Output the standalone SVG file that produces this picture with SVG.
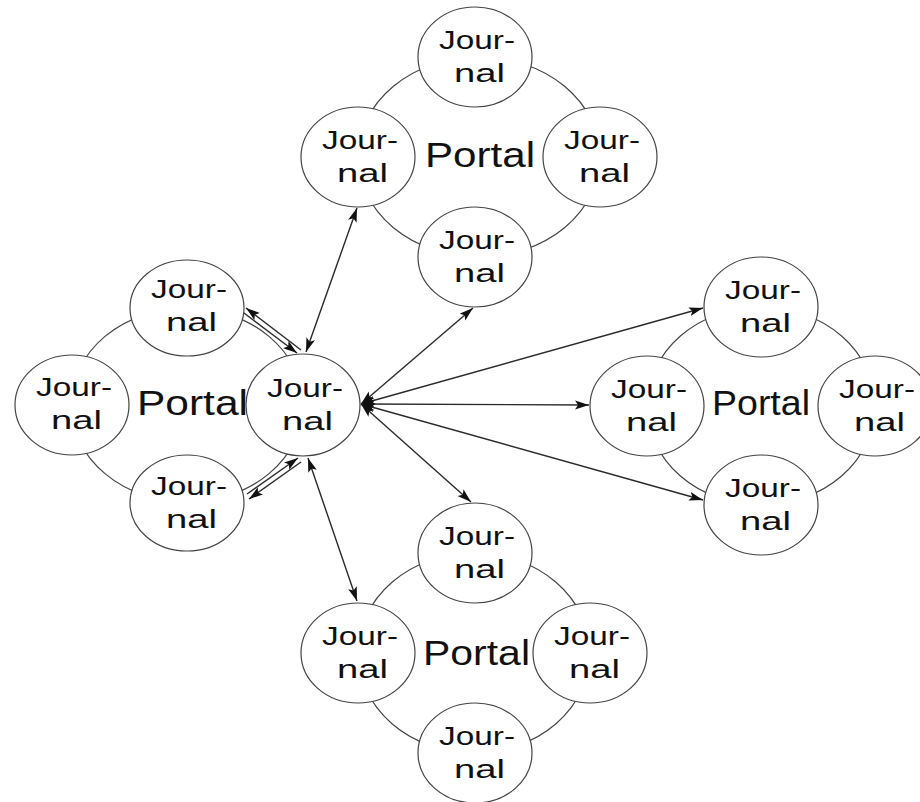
<svg xmlns="http://www.w3.org/2000/svg" width="920" height="802" viewBox="0 0 920 802">
<style>
.ring{fill:none;stroke:#444;stroke-width:1.2}
.j{fill:#fff;stroke:#444;stroke-width:1.2}
.t{font-family:"Liberation Sans",Arial,sans-serif;font-size:26px;fill:#111}
.p{font-family:"Liberation Sans",Arial,sans-serif;font-size:35px;fill:#111}
.c{fill:none;stroke:#2a2a2a;stroke-width:1.4}
</style>
<defs>
<marker id="ah" markerUnits="userSpaceOnUse" markerWidth="15" markerHeight="10" refX="14" refY="4.5" orient="auto-start-reverse">
<path d="M0,0 L14,4.5 L0,9 L3,4.5 z" fill="#111"/>
</marker>
</defs>
<rect width="920" height="802" fill="#fff"/>
<g id="rings">
<ellipse class="ring" cx="187" cy="405" rx="116" ry="97"/>
<ellipse class="ring" cx="479" cy="157" rx="121" ry="100"/>
<ellipse class="ring" cx="761" cy="406" rx="114" ry="99"/>
<ellipse class="ring" cx="474" cy="653" rx="116" ry="100"/>
</g>
<g id="portal-left"><text class="p" x="137" y="415" textLength="111" lengthAdjust="spacingAndGlyphs">Portal</text></g>
<g id="portal-top"><text class="p" x="425" y="167" textLength="110" lengthAdjust="spacingAndGlyphs">Portal</text></g>
<g id="portal-right"><text class="p" x="712" y="415" textLength="98" lengthAdjust="spacingAndGlyphs">Portal</text></g>
<g id="portal-bottom"><text class="p" x="423" y="665" textLength="107" lengthAdjust="spacingAndGlyphs">Portal</text></g>

<g id="j-left-l"><ellipse class="j" cx="72" cy="405" rx="57" ry="50"/><text class="t" x="36" y="396" textLength="76" lengthAdjust="spacingAndGlyphs">Jour-</text><text class="t" x="51" y="429" textLength="51" lengthAdjust="spacingAndGlyphs">nal</text></g>
<g id="j-left-t"><ellipse class="j" cx="187" cy="308" rx="57" ry="48"/><text class="t" x="151" y="298" textLength="76" lengthAdjust="spacingAndGlyphs">Jour-</text><text class="t" x="166" y="331" textLength="51" lengthAdjust="spacingAndGlyphs">nal</text></g>
<g id="j-left-r"><ellipse class="j" cx="303" cy="405" rx="57" ry="51"/><text class="t" x="267" y="397" textLength="76" lengthAdjust="spacingAndGlyphs">Jour-</text><text class="t" x="282" y="430" textLength="51" lengthAdjust="spacingAndGlyphs">nal</text></g>
<g id="j-left-b"><ellipse class="j" cx="187" cy="503" rx="57" ry="48"/><text class="t" x="151" y="495" textLength="76" lengthAdjust="spacingAndGlyphs">Jour-</text><text class="t" x="166" y="528" textLength="51" lengthAdjust="spacingAndGlyphs">nal</text></g>

<g id="j-top-t"><ellipse class="j" cx="475" cy="57" rx="57" ry="50"/><text class="t" x="439" y="49" textLength="76" lengthAdjust="spacingAndGlyphs">Jour-</text><text class="t" x="454" y="82" textLength="51" lengthAdjust="spacingAndGlyphs">nal</text></g>
<g id="j-top-l"><ellipse class="j" cx="358" cy="157" rx="57" ry="50"/><text class="t" x="322" y="149" textLength="76" lengthAdjust="spacingAndGlyphs">Jour-</text><text class="t" x="337" y="182" textLength="51" lengthAdjust="spacingAndGlyphs">nal</text></g>
<g id="j-top-r"><ellipse class="j" cx="600" cy="157" rx="57" ry="50"/><text class="t" x="564" y="149" textLength="76" lengthAdjust="spacingAndGlyphs">Jour-</text><text class="t" x="579" y="182" textLength="51" lengthAdjust="spacingAndGlyphs">nal</text></g>
<g id="j-top-b"><ellipse class="j" cx="475" cy="257" rx="57" ry="50"/><text class="t" x="439" y="249" textLength="76" lengthAdjust="spacingAndGlyphs">Jour-</text><text class="t" x="454" y="282" textLength="51" lengthAdjust="spacingAndGlyphs">nal</text></g>

<g id="j-right-t"><ellipse class="j" cx="761" cy="307" rx="57" ry="50"/><text class="t" x="725" y="299" textLength="76" lengthAdjust="spacingAndGlyphs">Jour-</text><text class="t" x="740" y="332" textLength="51" lengthAdjust="spacingAndGlyphs">nal</text></g>
<g id="j-right-l"><ellipse class="j" cx="647" cy="406" rx="57" ry="50"/><text class="t" x="611" y="398" textLength="76" lengthAdjust="spacingAndGlyphs">Jour-</text><text class="t" x="626" y="431" textLength="51" lengthAdjust="spacingAndGlyphs">nal</text></g>
<g id="j-right-r"><ellipse class="j" cx="875" cy="406" rx="57" ry="50"/><text class="t" x="839" y="398" textLength="76" lengthAdjust="spacingAndGlyphs">Jour-</text><text class="t" x="854" y="431" textLength="51" lengthAdjust="spacingAndGlyphs">nal</text></g>
<g id="j-right-b"><ellipse class="j" cx="761" cy="505" rx="57" ry="50"/><text class="t" x="725" y="497" textLength="76" lengthAdjust="spacingAndGlyphs">Jour-</text><text class="t" x="740" y="530" textLength="51" lengthAdjust="spacingAndGlyphs">nal</text></g>

<g id="j-bottom-t"><ellipse class="j" cx="475" cy="553" rx="57" ry="50"/><text class="t" x="439" y="545" textLength="76" lengthAdjust="spacingAndGlyphs">Jour-</text><text class="t" x="454" y="578" textLength="51" lengthAdjust="spacingAndGlyphs">nal</text></g>
<g id="j-bottom-l"><ellipse class="j" cx="358" cy="653" rx="57" ry="50"/><text class="t" x="322" y="645" textLength="76" lengthAdjust="spacingAndGlyphs">Jour-</text><text class="t" x="337" y="678" textLength="51" lengthAdjust="spacingAndGlyphs">nal</text></g>
<g id="j-bottom-r"><ellipse class="j" cx="590" cy="653" rx="57" ry="50"/><text class="t" x="554" y="645" textLength="76" lengthAdjust="spacingAndGlyphs">Jour-</text><text class="t" x="569" y="678" textLength="51" lengthAdjust="spacingAndGlyphs">nal</text></g>
<g id="j-bottom-b"><ellipse class="j" cx="475" cy="753" rx="57" ry="50"/><text class="t" x="439" y="745" textLength="76" lengthAdjust="spacingAndGlyphs">Jour-</text><text class="t" x="454" y="778" textLength="51" lengthAdjust="spacingAndGlyphs">nal</text></g>

<g id="connectors">
<line class="c" x1="361" y1="404" x2="473" y2="308" marker-start="url(#ah)" marker-end="url(#ah)"/>
<line class="c" x1="361" y1="404" x2="703" y2="308" marker-start="url(#ah)" marker-end="url(#ah)"/>
<line class="c" x1="361" y1="404" x2="589" y2="405" marker-start="url(#ah)" marker-end="url(#ah)"/>
<line class="c" x1="361" y1="404" x2="703" y2="500" marker-start="url(#ah)" marker-end="url(#ah)"/>
<line class="c" x1="361" y1="404" x2="471" y2="502" marker-start="url(#ah)" marker-end="url(#ah)"/>
<line class="c" x1="306" y1="352" x2="357" y2="208" marker-start="url(#ah)" marker-end="url(#ah)"/>
<line class="c" x1="308" y1="458" x2="357" y2="601" marker-start="url(#ah)" marker-end="url(#ah)"/>
<line class="c" x1="301" y1="350" x2="246" y2="308" marker-end="url(#ah)"/>
<line class="c" x1="244" y1="313" x2="297" y2="353" marker-end="url(#ah)"/>
<line class="c" x1="247" y1="494" x2="298" y2="458" marker-end="url(#ah)"/>
<line class="c" x1="301" y1="462" x2="249" y2="499" marker-end="url(#ah)"/>
</g>
</svg>
